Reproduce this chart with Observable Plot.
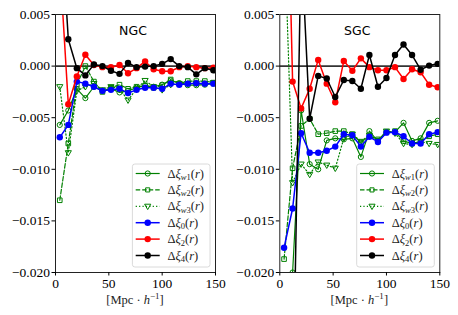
<!DOCTYPE html>
<html><head><meta charset="utf-8">
<script src="https://cdn.jsdelivr.net/npm/d3@7"></script>
<script src="https://cdn.jsdelivr.net/npm/@observablehq/plot@0.6"></script>
<style>
body{margin:0;background:#fff}
#c{display:flex;width:458px;height:315px;overflow:hidden}
</style>
</head><body><div id="c"></div><script>
// separation r [Mpc/h]
const r = [4,12,20,28,36,44,52,60,68,76,84,92,100,108,116,124,132,140,148];

// NGC
const ngc_w1  = [-0.0057,-0.0043,-0.0022,-0.0031,-0.0020,-0.0024,-0.0022,-0.00255,-0.0024,-0.0021,-0.0019,-0.0020,-0.0018,-0.0014,-0.00165,-0.00185,-0.00185,-0.0018,-0.0017];
const ngc_w2  = [-0.0130,-0.0075,-0.0018,0.0000,-0.0015,-0.0025,-0.0021,-0.0018,-0.0022,-0.0020,-0.0019,-0.0021,-0.00185,-0.0013,-0.0017,-0.00145,-0.00145,-0.00145,-0.0016];
const ngc_w3  = [-0.0020,-0.0084,-0.0024,-0.0020,-0.0017,-0.0023,-0.0020,-0.0022,-0.0033,-0.0022,-0.0014,-0.0020,-0.0023,-0.0018,-0.0017,-0.0017,-0.0017,-0.0017,-0.0016];
const ngc_xi0 = [-0.0069,-0.0057,-0.0015,-0.0017,-0.0020,-0.0024,-0.0023,-0.0022,-0.0026,-0.0023,-0.0021,-0.0021,-0.0022,-0.0017,-0.0018,-0.0017,-0.00165,-0.0017,-0.0017];
const ngc_xi2 = [0.0100,-0.0037,-0.0010,0.0011,0.0001,-0.0001,-0.0001,0.0001,-0.0007,-0.0002,0.00045,-0.0003,-0.0005,-0.0005,-0.0001,0.0000,-0.0001,-0.0002,-0.00015];
const ngc_xi4 = [0.0160,0.0026,-0.0002,-0.0009,0.00015,0.0000,-0.00045,-0.00075,0.0003,-0.0001,-0.00005,0.0000,0.00022,0.00068,0.0000,-0.0001,-0.0008,-0.0002,-0.0004];

// SGC
const sgc_w1  = [-0.0250,-0.0200,-0.0043,-0.0095,-0.0100,-0.0072,-0.0070,-0.0071,-0.0070,-0.0088,-0.0063,-0.0073,-0.0064,-0.0064,-0.0055,-0.00725,-0.0070,-0.0055,-0.0053];
const sgc_w2  = [-0.0187,-0.0099,-0.0058,-0.0051,-0.0066,-0.0065,-0.0063,-0.0063,-0.0066,-0.0074,-0.0068,-0.0071,-0.0064,-0.0063,-0.00725,-0.0075,-0.0073,-0.0068,-0.0066];
const sgc_w3  = [0.0140,-0.0113,-0.0095,-0.0105,-0.0093,-0.0096,-0.0099,-0.0070,-0.0066,-0.0073,-0.0067,-0.0072,-0.0063,-0.0065,-0.0075,-0.0076,-0.0073,-0.0075,-0.0076];
const sgc_xi0 = [-0.0176,-0.0138,-0.0065,-0.0084,-0.0084,-0.0082,-0.0078,-0.0066,-0.0067,-0.0078,-0.00685,-0.00735,-0.00645,-0.0064,-0.0068,-0.0075,-0.0075,-0.0066,-0.0064];
const sgc_xi2 = [0.0330,-0.0015,-0.0041,-0.0022,0.0006,-0.0017,-0.0035,0.0005,-0.00045,0.00075,-0.0001,-0.0004,-0.0004,-0.0001,-0.00125,-0.0003,-0.0006,-0.0018,-0.00205];
const sgc_xi4 = [-0.0500,-0.0350,0.0120,-0.0051,-0.00095,-0.0012,-0.0030,-0.00135,-0.00145,-0.0022,0.00107,-0.0020,-0.00115,0.00107,0.0021,0.00107,-0.00035,0.00005,0.00022];

const xTicks = [0,50,100,150];
const yTicks = [0.005,0.000,-0.005,-0.010,-0.015,-0.020];
const labels = ["w1","w2","w3","0","2","4"];
const panels = ["NGC","SGC"];

const triDown = {draw(ctx, size){
  const s = Math.sqrt(size);
  ctx.moveTo(-0.62*s,-0.42*s); ctx.lineTo(0.62*s,-0.42*s); ctx.lineTo(0,0.66*s); ctx.closePath();
}};
const styles = [
  {color:"green", w:1.2, dash:null,  symbol:"circle", fill:"none",  r:2.6, sw:1},
  {color:"green", w:1.2, dash:"4.5,2", symbol:"square", fill:"none", r:2.6, sw:1},
  {color:"green", w:1.2, dash:"1.2,2.2", symbol:triDown, fill:"none", r:2.8, sw:1},
  {color:"blue",  w:1.5, dash:null,  symbol:"circle", fill:"blue",  r:3.2, sw:0},
  {color:"red",   w:1.5, dash:null,  symbol:"circle", fill:"red",   r:3.2, sw:0},
  {color:"black", w:1.5, dash:null,  symbol:"circle", fill:"black", r:3.2, sw:0},
];

function panel(name, seriesVals, mLeft, mRight) {
  const W = 229, H = 315, mTop = 14, mBottom = 43;
  const marks = [Plot.ruleY([0], {stroke:"#333", strokeWidth:1.8})];
  seriesVals.forEach((vals, k) => {
    const st = styles[k];
    const data = r.map((x,i)=>({x, y: vals[i]}));
    marks.push(Plot.line(data, {x:"x", y:"y", stroke:st.color, strokeWidth:st.w, strokeDasharray:st.dash, clip:true}));
    marks.push(Plot.dot(data, {x:"x", y:"y", symbol:st.symbol, r:st.r, fill:st.fill, stroke:st.sw?st.color:"none", strokeWidth:st.sw, clip:true}));
  });
  marks.push(Plot.frame({stroke:"#222", strokeWidth:1}));
  marks.push(Plot.axisX({ticks:xTicks, tickSize:3.5, tickPadding:2, tickFormat:d=>String(d), label:null}));
  marks.push(Plot.axisY({ticks:yTicks, tickSize:3.5, tickPadding:2, tickFormat:d3.format(".3f"), label:null}));
  const svg = Plot.plot({
    width: W, height: H, marginLeft: mLeft, marginRight: mRight, marginTop: mTop, marginBottom: mBottom,
    x: {domain:[0,150]}, y: {domain:[-0.020, 0.005]},
    style: {fontFamily:"Liberation Serif", fontSize:"13.5px", color:"black", background:"white", overflow:"visible"},
    marks
  });
  const s = d3.select(svg);
  const axL = mLeft, axR = W - mRight, axB = H - mBottom;
  // title
  s.append("text").attr("x", axL + 78).attr("y", 34.5).attr("text-anchor","middle")
    .attr("font-family","DejaVu Sans").attr("font-size", 12.5).attr("fill","black").text(name);
  // x label
  const xl = s.append("text").attr("x", (axL+axR)/2).attr("y", 303.5).attr("text-anchor","middle")
    .attr("font-family","Liberation Serif").attr("font-size", 12.5).attr("fill","#222");
  xl.append("tspan").text("[Mpc \u00B7 ");
  xl.append("tspan").attr("font-style","italic").text("h");
  xl.append("tspan").attr("font-size", 9).attr("dy", -5).text("\u22121");
  xl.append("tspan").attr("dy", 5).text("]");
  // legend
  const bw = 77.6, bh = 103, bx = axR - 5 - bw, by = axB - 5 - bh;
  const g = s.append("g");
  g.append("rect").attr("x", bx).attr("y", by).attr("width", bw).attr("height", bh).attr("rx", 2.5)
    .attr("fill","white").attr("fill-opacity",0.85).attr("stroke","#d0d0d0").attr("stroke-width",0.8);
  labels.forEach((lab, k) => {
    const st = styles[k];
    const yy = by + 9.5 + k*16.4;
    const x0 = bx + 3.3, x1 = x0 + 24;
    g.append("line").attr("x1", x0).attr("x2", x1).attr("y1", yy).attr("y2", yy)
      .attr("stroke", st.color).attr("stroke-width", st.w).attr("stroke-dasharray", st.dash);
    const symType = st.symbol === "circle" ? d3.symbolCircle : st.symbol === "square" ? d3.symbolSquare : triDown;
    g.append("path").attr("transform", `translate(${(x0+x1)/2},${yy})`)
      .attr("d", d3.symbol(symType, Math.PI*st.r*st.r*(st.symbol==="square"?0.8:1))())
      .attr("fill", st.fill).attr("stroke", st.sw?st.color:"none").attr("stroke-width", st.sw);
    const t = g.append("text").attr("x", bx + 35).attr("y", yy + 4).attr("text-anchor","start")
      .attr("font-family","Liberation Serif").attr("font-size", 12.5).attr("fill","#222");
    t.append("tspan").text("\u0394");
    t.append("tspan").attr("font-style","italic").text("\u03BE");
    const sub = t.append("tspan").attr("font-size", 8.5).attr("dy", 2.5);
    if (lab[0] === "w") { sub.append("tspan").attr("font-style","italic").text("w"); sub.append("tspan").text(lab.slice(1)); }
    else sub.text(lab);
    t.append("tspan").attr("dy", -2.5).text("(");
    t.append("tspan").attr("font-style","italic").text("r");
    t.append("tspan").text(")");
  });
  return svg;
}

const c = document.getElementById("c");
c.appendChild(panel(panels[0], [ngc_w1,ngc_w2,ngc_w3,ngc_xi0,ngc_xi2,ngc_xi4], 55, 14));
c.appendChild(panel(panels[1], [sgc_w1,sgc_w2,sgc_w3,sgc_xi0,sgc_xi2,sgc_xi4], 50.3, 18.7));
</script></body></html>
